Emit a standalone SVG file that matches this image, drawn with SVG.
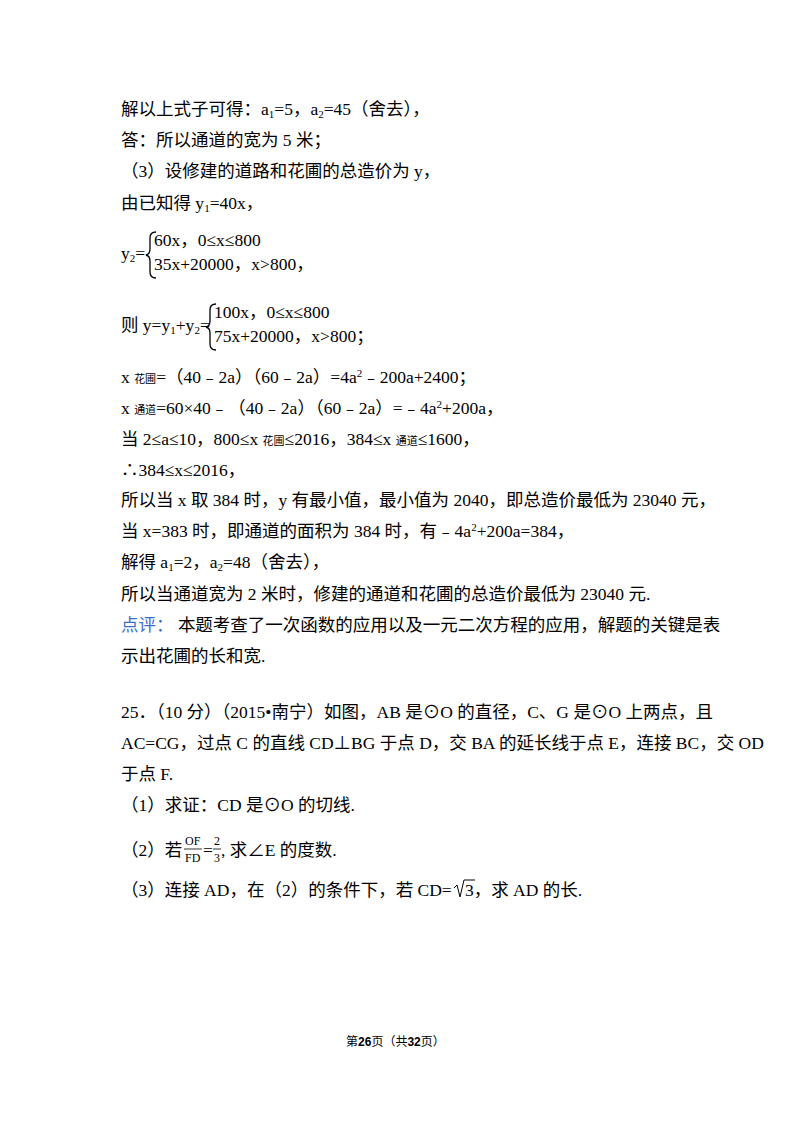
<svg xmlns="http://www.w3.org/2000/svg" width="800" height="1132" viewBox="0 0 800 1132">
<style>
text{font-family:"Liberation Serif","Noto Sans CJK SC",serif;font-size:17.5px;fill:#000}
.s{font-size:11px}
.blue{fill:#3a6fd0}
.f{font-size:12px;font-family:"Liberation Sans","Noto Sans CJK SC",sans-serif}
</style>
<rect width="800" height="1132" fill="#fff"/>
<text x="121" y="115">解以上式子可得：a<tspan class="s" dy="3">1</tspan><tspan dy="-3">=5，a</tspan><tspan class="s" dy="3">2</tspan><tspan dy="-3">=45（舍去），</tspan></text>
<text x="121" y="146">答：所以通道的宽为 5 米；</text>
<text x="121" y="177">（3）设修建的道路和花圃的总造价为 y，</text>
<text x="121" y="209">由已知得 y<tspan class="s" dy="3">1</tspan><tspan dy="-3">=40x，</tspan></text>
<text x="121" y="259">y<tspan class="s" dy="3">2</tspan><tspan dy="-3">=</tspan></text>
<path d="M156 232 Q150 232 150 238 L150 249 Q150 254 146 255 Q150 256 150 261 L150 272 Q150 278 156 278" fill="none" stroke="#000" stroke-width="1.3"/>
<text x="154" y="246">60x，0≤x≤800</text>
<text x="154" y="270">35x+20000，x&gt;800，</text>
<text x="121" y="331">则 y=y<tspan class="s" dy="3">1</tspan><tspan dy="-3">+y</tspan><tspan class="s" dy="3">2</tspan><tspan dy="-3">=</tspan></text>
<path d="M216 304 Q210 304 210 310 L210 321 Q210 326 206 327 Q210 328 210 333 L210 344 Q210 350 216 350" fill="none" stroke="#000" stroke-width="1.3"/>
<text x="214" y="318">100x，0≤x≤800</text>
<text x="214" y="342">75x+20000，x&gt;800；</text>
<text x="121" y="383">x <tspan class="s">花圃</tspan>=（40﹣2a）（60﹣2a）=4a<tspan class="s" dy="-6">2</tspan><tspan dy="6">﹣200a+2400；</tspan></text>
<text x="121" y="414">x <tspan class="s">通道</tspan>=60×40﹣（40﹣2a）（60﹣2a）=﹣4a<tspan class="s" dy="-6">2</tspan><tspan dy="6">+200a，</tspan></text>
<text x="121" y="445">当 2≤a≤10，800≤x <tspan class="s">花圃</tspan>≤2016，384≤x <tspan class="s">通道</tspan>≤1600，</text>
<text x="121" y="476">∴384≤x≤2016，</text>
<text x="121" y="506">所以当 x 取 384 时，y 有最小值，最小值为 2040，即总造价最低为 23040 元，</text>
<text x="121" y="537">当 x=383 时，即通道的面积为 384 时，有﹣4a<tspan class="s" dy="-6">2</tspan><tspan dy="6">+200a=384，</tspan></text>
<text x="121" y="568">解得 a<tspan class="s" dy="3">1</tspan><tspan dy="-3">=2，a</tspan><tspan class="s" dy="3">2</tspan><tspan dy="-3">=48（舍去），</tspan></text>
<text x="121" y="600">所以当通道宽为 2 米时，修建的通道和花圃的总造价最低为 23040 元.</text>
<text x="121" y="631"><tspan class="blue">点评：</tspan>  本题考查了一次函数的应用以及一元二次方程的应用，解题的关键是表</text>
<text x="121" y="662">示出花圃的长和宽.</text>
<text x="121" y="718">25．（10 分）（2015•南宁）如图，AB 是⊙O 的直径，C、G 是⊙O 上两点，且</text>
<text x="121" y="749">AC=CG，过点 C 的直线 CD⊥BG 于点 D，交 BA 的延长线于点 E，连接 BC，交 OD</text>
<text x="121" y="780">于点 F.</text>
<text x="121" y="811">（1）求证：CD 是⊙O 的切线.</text>
<text x="121" y="856">（2）若</text>
<text x="185" y="845" style="font-size:12px">OF</text>
<line x1="184" y1="849" x2="202" y2="849" stroke="#000" stroke-width="0.8"/>
<text x="185" y="862" style="font-size:12px">FD</text>
<text x="203" y="856">=</text>
<text x="214" y="845" style="font-size:12px">2</text>
<line x1="213" y1="849" x2="221" y2="849" stroke="#000" stroke-width="0.8"/>
<text x="214" y="862" style="font-size:12px">3</text>
<text x="221" y="856">, 求∠E 的度数.</text>
<text x="121" y="896">（3）连接 AD，在（2）的条件下，若 CD=</text>
<path d="M454 888 L457 885 L460 897 L464 880 L475 880" fill="none" stroke="#000" stroke-width="1"/>
<text x="465" y="896">3，求 AD 的长.</text>
<text x="346" y="1046" class="f">第<tspan font-weight="bold">26</tspan>页（共<tspan font-weight="bold">32</tspan>页）</text>
</svg>
